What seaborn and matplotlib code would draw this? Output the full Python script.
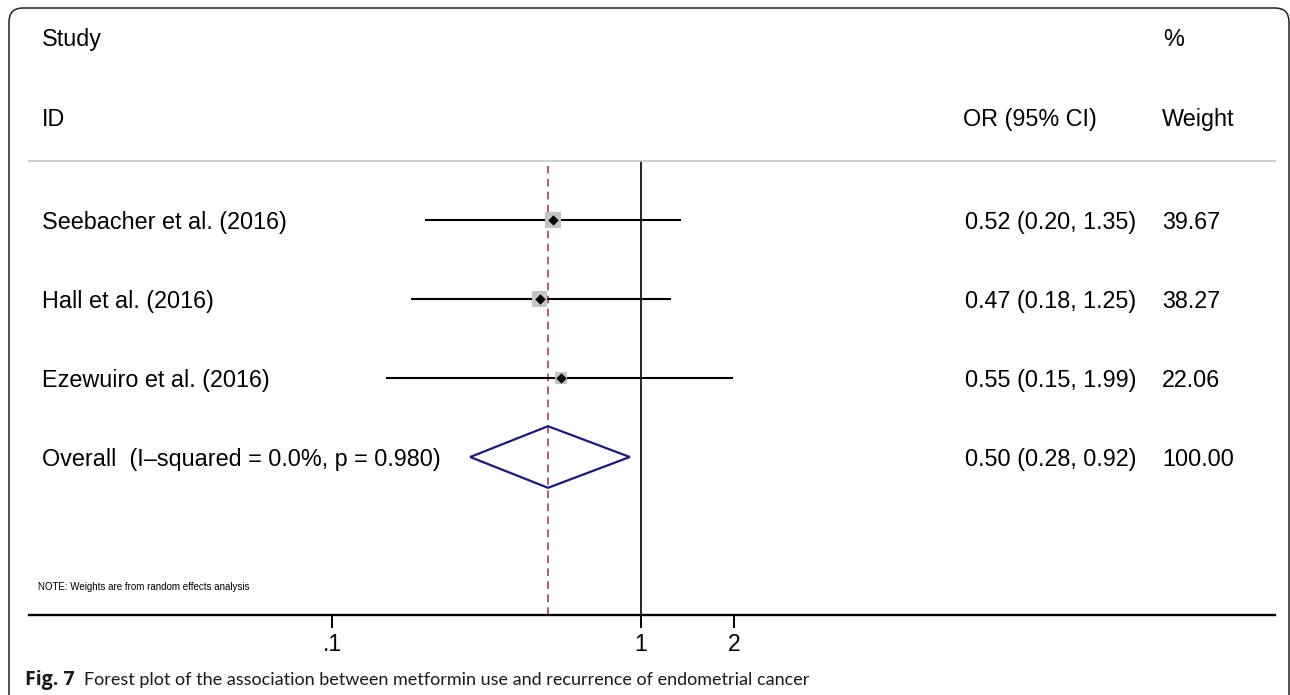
import matplotlib
matplotlib.use('Agg')
import matplotlib.pyplot as plt
import matplotlib.patches as mpatches
from matplotlib.transforms import IdentityTransform, blended_transform_factory
import seaborn as sns
import pandas as pd

# data
studies = ['Seebacher et al. (2016)', 'Hall et al. (2016)', 'Ezewuiro et al. (2016)']
odds = [0.52, 0.47, 0.55]
ci_low = [0.20, 0.18, 0.15]
ci_high = [1.35, 1.25, 1.99]
weights = [39.67, 38.27, 22.06]
overall_label = 'Overall  (I\u2013squared = 0.0%, p = 0.980)'
overall_or = 0.50
overall_low = 0.28
overall_high = 0.92
xtick_vals = [0.1, 1, 2]
xtick_labels = ['.1', '1', '2']

sns.set_theme(style='white')
plt.rcParams['font.family'] = ['Liberation Sans', 'DejaVu Sans']

df = pd.DataFrame({'study': studies, 'OR': odds, 'lo': ci_low, 'hi': ci_high,
                   'weight': weights, 'row': range(1, len(studies) + 1)})
row_overall = len(studies) + 1

W, H = 1290, 695
fig = plt.figure(figsize=(W / 100, H / 100), dpi=100)
ax = fig.add_axes([29 / W, 80 / H, 1246 / W, 454 / H])
ax.set_xscale('log')

# CI lines, weight boxes, point estimates
ax.hlines(df['row'], df['lo'], df['hi'], color='black', lw=1.5, zorder=2)
sns.scatterplot(data=df, x='OR', y='row', size='weight', sizes=(0, 330), size_norm=(0, 100),
                marker='s', color='#c4c4c4', linewidth=0, legend=False, ax=ax, zorder=3)
sns.scatterplot(data=df, x='OR', y='row', marker='D', s=28, color='black',
                linewidth=0, legend=False, ax=ax, zorder=4)

# overall diamond
dh = 0.39
ax.fill([overall_low, overall_or, overall_high, overall_or, overall_low],
        [row_overall, row_overall - dh, row_overall, row_overall + dh, row_overall],
        facecolor='none', edgecolor='#1a1a78', lw=1.6, zorder=4)

ax.axvline(1, color='black', lw=1.2, zorder=1)
ax.axvline(overall_or, color='#a83240', lw=1.1, ls=(0, (5, 3.5)), zorder=1)

ax.set_xlim(10 ** ((29 - 641) / 309), 10 ** ((1275 - 641) / 309))
ax.set_ylim(6.0, 1 - 59 / 79)
ax.set_xticks(xtick_vals)
ax.set_xticklabels(xtick_labels)
ax.minorticks_off()
ax.set_yticks([])
ax.set_xlabel('')
ax.set_ylabel('')
ax.tick_params(axis='x', direction='out', length=9, width=1.4, labelsize=16.5, pad=4,
               colors='black', bottom=True)
for s in ['left', 'right']:
    ax.spines[s].set_visible(False)
ax.spines['bottom'].set_color('black')
ax.spines['bottom'].set_linewidth(1.7)
ax.spines['top'].set_color('#c8c8c8')
ax.spines['top'].set_linewidth(1.2)

# text columns
fs = 16.8
tx = lambda px: (px - 29) / 1246
tr = blended_transform_factory(ax.transAxes, ax.transData)
kw = dict(va='center_baseline', fontsize=fs, clip_on=False, color='black', transform=tr)
ax.text(tx(42), -1.316, 'Study', **kw)
ax.text(tx(42), -0.304, 'ID', **kw)
ax.text(tx(1163), -1.316, '%', **kw)
ax.text(tx(963), -0.304, 'OR (95% CI)', **kw)
ax.text(tx(1162), -0.304, 'Weight', **kw)
for r, name, o, l, h, w in zip(df['row'], studies, odds, ci_low, ci_high, weights):
    ax.text(tx(42), r, name, **kw)
    ax.text(tx(965), r, f'{o:.2f} ({l:.2f}, {h:.2f})', **kw)
    ax.text(tx(1162), r, f'{w:.2f}', **kw)
ax.text(tx(42), row_overall, overall_label, **kw)
ax.text(tx(965), row_overall, f'{overall_or:.2f} ({overall_low:.2f}, {overall_high:.2f})', **kw)
ax.text(tx(1162), row_overall, f'{sum(weights):.2f}', **kw)
ax.text(tx(38), 5.646, 'NOTE: Weights are from random effects analysis', transform=tr,
        va='center', fontsize=7, color='black')

# caption
fig.text(25 / W, 15 / H, 'Fig. 7', fontsize=14, fontweight='bold', va='center',
         family=['Open Sans', 'DejaVu Sans'], color='#1a1a1a')
fig.text(84 / W, 15 / H, 'Forest plot of the association between metformin use and '
         'recurrence of endometrial cancer', fontsize=13, va='center',
         family=['Lato', 'DejaVu Sans'], color='#1a1a1a')

# rounded frame, open at the bottom
frame = mpatches.FancyBboxPatch((9, -40), 1280, 687 + 40,
                                boxstyle='round,pad=0,rounding_size=14',
                                transform=IdentityTransform(), facecolor='none',
                                edgecolor='#222222', lw=1.1)
fig.add_artist(frame)

fig.savefig('out.png', dpi=100, facecolor='white')
